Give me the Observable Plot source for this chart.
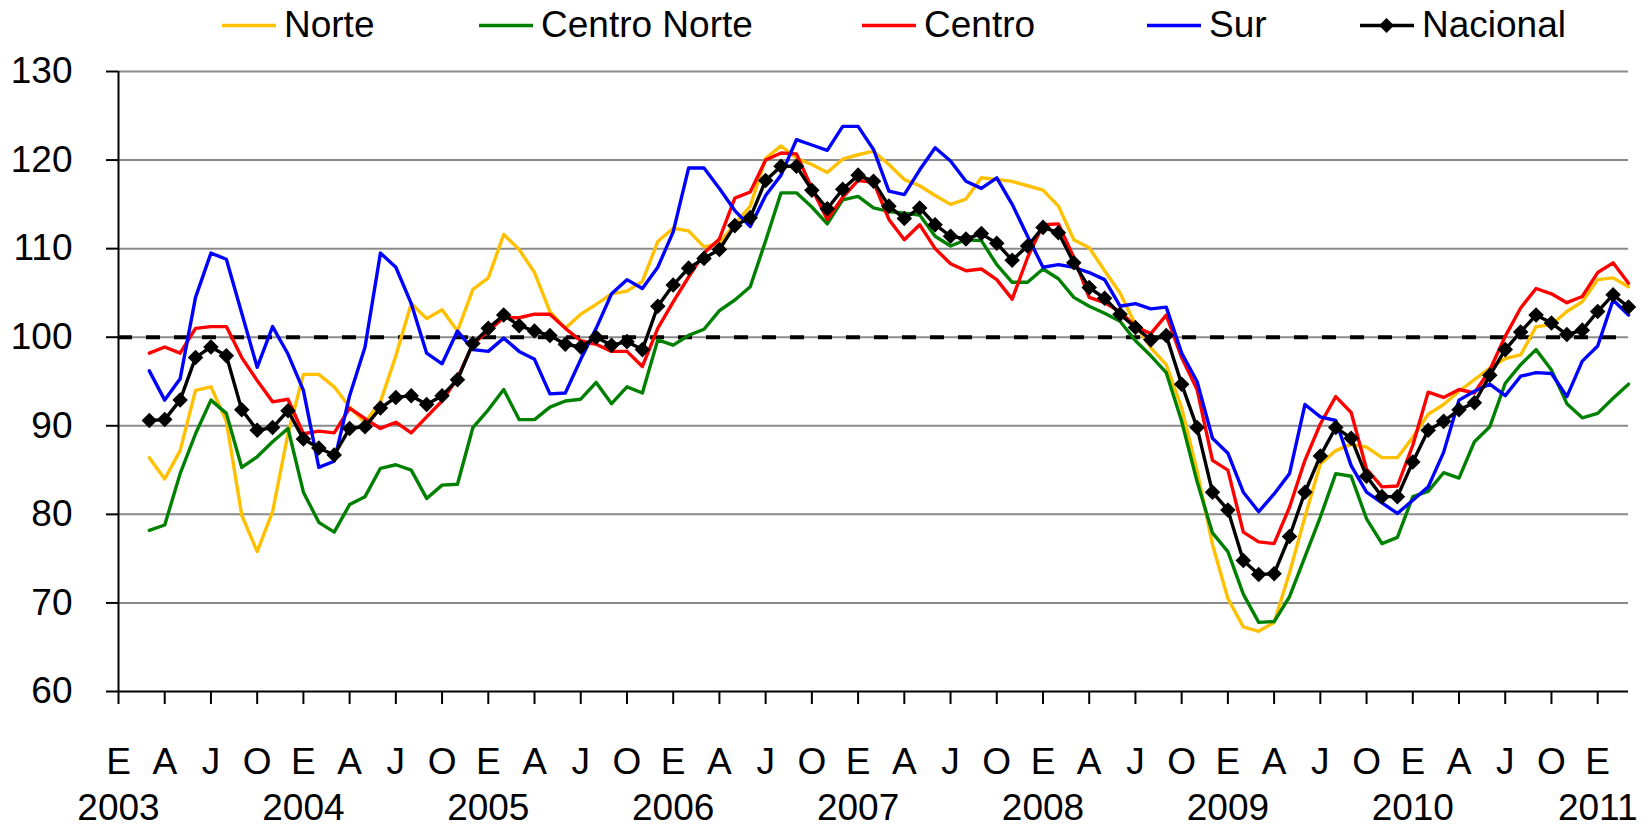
<!DOCTYPE html>
<html>
<head>
<meta charset="utf-8">
<script src="https://cdn.jsdelivr.net/npm/d3@7"></script>
<script src="https://cdn.jsdelivr.net/npm/@observablehq/plot@0.6"></script>
<style>
  body { margin: 0; background: #fff; font-family: "Liberation Sans", Arial, sans-serif; }
  #legend { position: relative; width: 1650px; height: 50px; }
  .item { position: absolute; top: 0; height: 50px; display: flex; align-items: center; font-size: 37px; color: #000; white-space: nowrap; }
  .item svg { margin-right: 8px; }
  #chart svg { display: block; }
</style>
</head>
<body>
<div id="legend"></div>
<div id="chart"></div>
<script>
// ---- Data (monthly index, Mar 2003 – Mar 2011) ----
const seriesNames = ["Norte", "Centro Norte", "Centro", "Sur", "Nacional"];
const seriesColors = ["#FFC000", "#008000", "#FF0000", "#0000FF", "#000000"];
const quarterLabels = ["E", "A", "J", "O"];
const yearLabels = ["2003", "2004", "2005", "2006", "2007", "2008", "2009", "2010", "2011"];
const yTicks = [60, 70, 80, 90, 100, 110, 120, 130];
const baseline = [100];

const norte = [86.4,84.0,87.2,94.0,94.4,90.5,79.9,75.8,80.3,89.1,95.8,95.8,94.4,92.1,90.4,92.7,97.9,103.8,102.1,103.1,100.7,105.4,106.7,111.6,109.9,107.3,102.9,101.0,102.6,103.7,104.9,105.2,106.3,110.8,112.3,112.0,110.2,110.6,112.8,114.8,120.2,121.6,120.2,119.5,118.6,120.1,120.6,121.0,119.5,117.8,117.1,116.0,115.0,115.6,118.0,117.8,117.6,117.1,116.6,114.8,111.0,110.1,107.5,105.0,101.4,98.8,96.9,92.0,84.9,76.6,70.5,67.3,66.8,67.8,73.4,79.7,85.7,87.2,87.9,87.6,86.4,86.4,88.7,91.3,92.4,93.9,95.2,96.5,97.6,98.0,101.2,101.4,102.9,104.0,106.5,106.7,105.7];
const centroNorte = [78.2,78.8,84.6,89.1,92.9,91.4,85.3,86.5,88.2,89.7,82.5,79.1,78.0,81.1,82.0,85.2,85.6,85.0,81.8,83.3,83.4,89.8,91.8,94.1,90.7,90.7,92.1,92.8,93.0,94.9,92.5,94.4,93.7,99.7,99.1,100.2,100.9,103.0,104.2,105.7,110.9,116.3,116.3,114.7,112.8,115.5,115.9,114.6,114.2,114.0,113.8,111.4,110.3,111.0,110.9,108.2,106.2,106.2,107.7,106.6,104.5,103.5,102.7,101.8,99.6,97.9,96.0,90.5,83.7,77.9,75.8,71.0,67.8,67.9,70.7,75.2,79.7,84.6,84.3,79.5,76.7,77.4,82.0,82.6,84.7,84.1,88.2,89.9,94.8,96.9,98.6,96.3,92.5,90.9,91.4,93.1,94.7];
const centro = [98.2,98.9,98.2,101.0,101.2,101.2,97.7,95.1,92.7,93.0,89.1,89.4,89.2,92.0,90.8,89.7,90.4,89.2,91.0,92.8,95.4,99.2,100.7,102.2,102.2,102.6,102.6,101.0,99.6,99.2,98.4,98.4,96.7,101.0,104.0,106.8,109.5,111.1,115.7,116.4,120.0,120.8,120.7,116.8,113.3,115.8,117.7,117.5,113.3,111.0,112.7,110.0,108.3,107.5,107.7,106.5,104.3,109.0,112.7,112.8,109.0,104.5,103.9,102.9,101.2,100.4,102.5,97.7,94.1,86.1,85.0,78.0,76.9,76.7,80.8,86.1,90.2,93.3,91.5,85.1,83.1,83.2,87.8,93.8,93.2,94.1,93.7,96.3,100.1,103.3,105.5,104.9,103.9,104.6,107.3,108.4,106.1];
const sur = [96.2,92.9,95.3,104.5,109.5,108.8,102.7,96.6,101.2,98.1,94.0,85.3,86.0,93.4,98.9,109.5,107.9,103.8,98.2,97.0,100.7,98.6,98.4,99.9,98.4,97.5,93.6,93.7,97.5,101.0,104.9,106.5,105.5,107.9,111.9,119.1,119.1,116.8,114.3,112.5,116.0,118.3,122.3,121.7,121.1,123.8,123.8,121.2,116.5,116.1,118.9,121.4,119.9,117.6,116.8,118.0,115.0,111.4,107.9,108.2,107.9,107.3,106.5,103.5,103.8,103.2,103.4,98.2,95.0,88.6,86.9,82.5,80.3,82.3,84.6,92.4,91.0,90.6,85.5,82.5,81.3,80.1,81.6,83.1,87.0,92.9,93.9,94.7,93.4,95.6,96.0,95.9,93.3,97.3,99.0,104.2,102.5];
const nacional = [90.6,90.7,92.9,97.7,98.9,97.9,91.8,89.5,89.8,91.7,88.5,87.5,86.7,89.7,89.9,92.0,93.2,93.4,92.4,93.4,95.2,99.3,101.0,102.5,101.3,100.7,100.2,99.2,98.9,100.0,99.1,99.5,98.6,103.5,105.9,107.8,108.9,109.9,112.6,113.5,117.7,119.3,119.3,116.6,114.5,116.7,118.3,117.6,114.8,113.4,114.6,112.7,111.4,111.1,111.7,110.6,108.7,110.3,112.4,111.8,108.4,105.6,104.4,102.6,101.1,99.7,100.2,94.7,89.8,82.5,80.5,74.8,73.2,73.3,77.5,82.5,86.6,89.8,88.6,84.3,82.0,82.0,85.9,89.5,90.5,91.8,92.6,95.7,98.6,100.6,102.5,101.6,100.3,100.8,102.9,104.8,103.4];

// months counted from January 2003 (E 2003 = 0); first observation: March 2003
const firstMonth = 2;
const axisMonths = 98; // last category: March 2011

const seriesValues = [norte, centroNorte, centro, sur, nacional];
const rows = seriesNames.flatMap((name, s) =>
  seriesValues[s].map((v, k) => ({ serie: name, t: firstMonth + k, v }))
);
const nacRows = rows.filter(d => d.serie === "Nacional");

// ---- Legend ----
const legendLeft = [222, 479, 862, 1147, 1360];
const legend = document.getElementById("legend");
seriesNames.forEach((name, i) => {
  const item = document.createElement("div");
  item.className = "item";
  item.style.left = legendLeft[i] + "px";
  const marker = name === "Nacional"
    ? `<path d="M26.5,3 L34,10.5 L26.5,18 L19,10.5 Z" fill="#000"/>` : "";
  item.innerHTML = `<svg width="54" height="21"><line x1="0" y1="10.5" x2="54" y2="10.5" stroke="${seriesColors[i]}" stroke-width="3.5"/>${marker}</svg><span>${name}</span>`;
  legend.appendChild(item);
});

// ---- Chart ----
const qTicks = d3.range(0, 97, 3);
const yearTicks = d3.range(0, 97, 12);

const chart = Plot.plot({
  width: 1650,
  height: 779,
  marginTop: 21,
  marginRight: 22,
  marginBottom: 138,
  marginLeft: 118,
  style: { fontFamily: "Liberation Sans, Arial, sans-serif", fontSize: "37px", color: "#000", background: "#fff", overflow: "visible" },
  x: { type: "linear", domain: [0, axisMonths], label: null },
  y: { domain: [60, 130], label: null },
  color: { domain: seriesNames, range: seriesColors },
  marks: [
    Plot.ruleY(yTicks.filter(d => d > 60), { stroke: "#8a8a8a", strokeWidth: 2 }),
    Plot.ruleY(baseline, { stroke: "#000", strokeWidth: 4, strokeDasharray: "14,14" }),
    Plot.line(rows, { x: "t", y: "v", z: "serie", stroke: "serie", strokeWidth: 3.4 }),
    Plot.dot(nacRows, { x: "t", y: "v", symbol: "diamond2", r: 7, fill: "#000", stroke: "none" }),
    Plot.ruleX([0], { stroke: "#000", strokeWidth: 2 }),
    Plot.ruleY([60], { stroke: "#000", strokeWidth: 2 }),
    Plot.axisY({ ticks: yTicks, label: null, tickSize: 12, tickPadding: 34, stroke: "#000", strokeWidth: 2, fontSize: 37, tickFormat: d => String(d) }),
    Plot.axisX({ ticks: qTicks, label: null, tickSize: 13, tickPadding: 43, stroke: "#000", strokeWidth: 2, fontSize: 37, tickFormat: d => quarterLabels[(d / 3) % 4] }),
    Plot.axisX({ ticks: yearTicks, label: null, tickSize: 0, tickPadding: 102, fontSize: 37, tickFormat: d => yearLabels[d / 12] })
  ]
});
document.getElementById("chart").appendChild(chart);
</script>
</body>
</html>
